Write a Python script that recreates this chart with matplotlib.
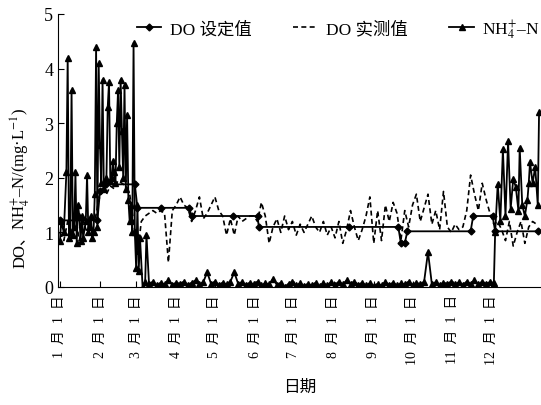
import matplotlib
matplotlib.use("Agg")
import matplotlib.pyplot as plt
import numpy as np

plt.rcParams['font.family'] = ['Liberation Serif', 'Noto Sans CJK SC']
plt.rcParams['mathtext.fontset'] = 'stix'
plt.rcParams['axes.unicode_minus'] = False

# month ticks (day of year, Jan 1 = 0)
month_days = [0, 31, 59, 90, 120, 151, 181, 212, 243, 273, 304, 334]
month_labels = ['%d  月  1  日' % m for m in range(1, 13)]

# DO set value (step line)
set_days = [0, 29, 31, 36, 58, 60, 78, 100, 102, 134, 153, 154, 224, 262,
            264, 267, 269, 318, 320, 335, 337, 370]
set_vals = [1.22, 1.22, 1.75, 1.88, 1.88, 1.45, 1.45, 1.45, 1.3, 1.3, 1.3,
            1.1, 1.1, 1.1, 0.8, 0.8, 1.02, 1.02, 1.3, 1.3, 1.02, 1.02]

# DO measured, every 3 days
do_meas = [1.0, 0.85, 1.2, 0.9, 1.3, 0.85, 1.2, 1.0, 1.3, 1.2,
           1.6, 1.75, 1.7, 1.85, 1.8, 1.95, 1.9, 1.85, 1.7, 1.2,
           0.6, 1.2, 1.3, 1.35, 1.4, 1.35, 1.4, 1.35, 0.45, 1.4,
           1.5, 1.65, 1.5, 1.45, 1.2, 1.4, 1.65, 1.25, 1.35, 1.5,
           1.65, 1.4, 1.3, 0.95, 1.25, 0.95, 1.3, 1.2, 1.25, 1.3,
           1.3, 1.2, 1.55, 1.3, 0.8, 1.1, 1.25, 1.0, 1.3, 1.05,
           1.2, 0.95, 1.15, 1.0, 1.15, 1.3, 1.1, 1.0, 1.2, 0.95,
           1.1, 0.9, 1.2, 0.8, 1.05, 1.4, 1.1, 0.85, 1.05, 1.3,
           1.65, 0.8, 1.4, 0.85, 1.5, 1.2, 1.55, 1.35, 0.85, 1.4,
           1.1, 1.5, 1.7, 1.2, 1.45, 1.7, 1.15, 1.4, 1.05, 1.75,
           1.1, 1.0, 1.15, 1.05, 1.1, 1.4, 2.05, 1.7, 1.4, 1.9,
           1.6, 1.35, 1.15, 1.2, 1.05, 0.85, 1.2, 0.75, 1.0, 1.2,
           0.8, 1.1, 1.2, 1.15]
do_days = np.arange(len(do_meas)) * 3

# NH4+-N: Jan-Mar (daily-ish)
nh4_early_days = [0, 1, 3, 5, 6, 7, 8, 9, 10, 11, 12, 13, 14, 15, 16, 17, 18,
                  20, 21, 22, 23, 24, 25, 26, 27, 28, 29, 30, 31, 32, 33, 34,
                  36, 37, 38, 39, 40, 41, 42, 43, 44, 45, 46, 47, 48, 49, 50,
                  51, 52, 53, 54, 55, 56, 57, 58, 59, 60, 61, 62, 64, 66, 67]
nh4_early_vals = [0.85, 1.2, 1.0, 2.1, 4.2, 0.9, 1.0, 3.6, 0.95, 1.1, 2.1,
                  0.8, 1.5, 1.3, 0.85, 1.3, 0.9, 1.2, 2.05, 1.0, 1.1, 1.3,
                  0.9, 1.0, 1.7, 4.4, 1.1, 4.1, 2.6, 1.9, 3.8, 1.8, 2.0, 3.3,
                  3.75, 1.95, 2.0, 2.3, 2.1, 1.9, 3.0, 3.6, 2.2, 3.8, 2.85,
                  2.0, 3.7, 1.8, 3.15, 1.6, 1.2, 1.5, 1.0, 4.47, 1.0, 0.35,
                  1.5, 0.3, 0.9, 0.0, 0.1, 0.95]
# NH4+-N: Mar-Nov, every 3 days from day 69
nh4_mid_vals = [0.05, 0.1, 0.03, 0.08, 0.05, 0.12, 0.04, 0.08, 0.06, 0.1,
                0.04, 0.08, 0.12, 0.05, 0.09, 0.27, 0.06, 0.1, 0.04, 0.08,
                0.05, 0.1, 0.27, 0.06, 0.09, 0.04, 0.08, 0.05, 0.1, 0.03,
                0.07, 0.05, 0.15, 0.04, 0.08, 0.0, 0.06, 0.1, 0.03, 0.07,
                0.02, 0.06, 0.03, 0.08, 0.02, 0.07, 0.03, 0.09, 0.04, 0.1,
                0.05, 0.12, 0.06, 0.1, 0.04, 0.08, 0.03, 0.07, 0.02, 0.06,
                0.03, 0.09, 0.04, 0.08, 0.03, 0.07, 0.05, 0.1, 0.04, 0.08,
                0.05, 0.1, 0.64, 0.05, 0.09, 0.04, 0.08, 0.06, 0.1, 0.05,
                0.09, 0.04, 0.1, 0.06, 0.12, 0.05, 0.1, 0.06, 0.09]
nh4_mid_days = 69 + np.arange(len(nh4_mid_vals)) * 3
# NH4+-N: December
nh4_late_days = [336, 337, 339, 341, 343, 345, 347, 349, 351, 353, 355, 356,
                 358, 360, 362, 363, 364, 366, 368, 370, 371]
nh4_late_vals = [0.08, 1.0, 1.89, 1.2, 2.52, 1.3, 2.67, 1.43, 1.98, 1.83,
                 1.4, 2.55, 1.5, 1.3, 1.6, 1.9, 2.29, 1.9, 2.2, 1.5, 3.2]

nh4_days = np.concatenate([nh4_early_days, nh4_mid_days, nh4_late_days])
nh4_vals = np.concatenate([nh4_early_vals, nh4_mid_vals, nh4_late_vals])

fig = plt.figure(figsize=(5.41, 4.06), dpi=100)
ax = fig.add_axes([58 / 541, 1 - 288 / 406, 1 - 58 / 541, (288 - 15) / 406])

ax.plot(do_days, do_meas, color='black', lw=1.2, linestyle=(0, (3, 2)),
        label='DO 实测值', zorder=2)
ax.plot(nh4_days, nh4_vals, color='black', lw=1.3, marker='^', ms=5,
        label='NH$_4^{+}$–N', zorder=3)
ax.plot(set_days, set_vals, color='black', lw=1.3, marker='D', ms=3.5,
        label='DO 设定值', zorder=4)

ax.set_xlim(-1.5, 372.5)
ax.set_ylim(0, 5)
ax.set_yticks([0, 1, 2, 3, 4, 5])
ax.set_xticks(month_days)
ax.set_xticklabels(month_labels, rotation=90, fontsize=10)
ax.tick_params(axis='y', labelsize=13, direction='in', length=4)
ax.tick_params(axis='x', direction='in', length=4, pad=5)
for s in ['top', 'right']:
    ax.spines[s].set_visible(False)

ax.set_xlabel('日期', fontsize=12, labelpad=11)

# y label in two pieces: CJK comma part + mathtext part
fig.canvas.draw()
renderer = fig.canvas.get_renderer()
t1 = fig.text(20 / 541, 1 - 268 / 406, 'DO、', rotation=90,
              ha='center', va='bottom', fontsize=12)
bb = t1.get_window_extent(renderer).transformed(fig.transFigure.inverted())
fig.text(20 / 541, bb.y1 - 0.005, 'NH$_4^{+}$–N/(mg·L$^{-1}$)', rotation=90,
         ha='center', va='bottom', fontsize=12)

h, l = ax.get_legend_handles_labels()
order = [2, 0, 1]
ax.legend([h[i] for i in order], [l[i] for i in order], ncol=3, frameon=False,
          loc='upper right', bbox_to_anchor=(1.03, 1.045), fontsize=12.5,
          handlelength=1.4, columnspacing=2.4, handletextpad=0.5)

fig.savefig('out.png', dpi=100)
